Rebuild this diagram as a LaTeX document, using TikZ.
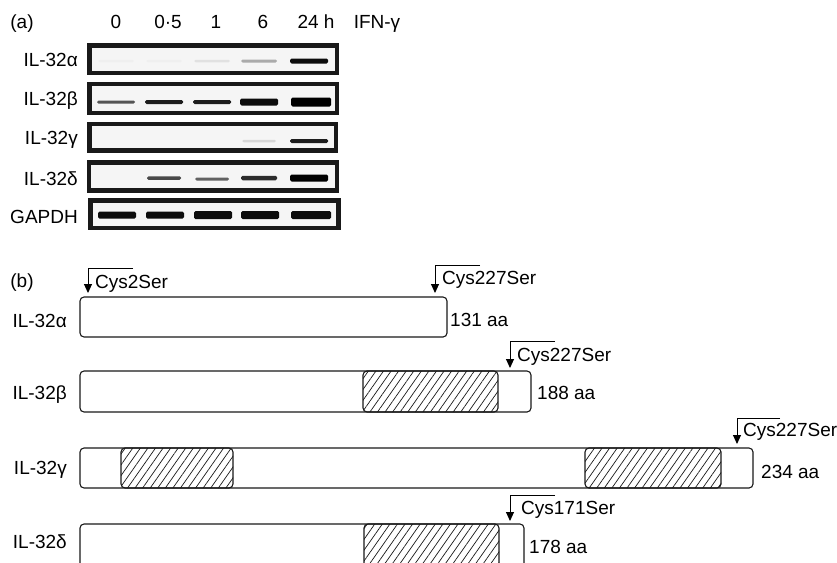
\documentclass[tikz,border=0pt]{standalone}
\usepackage{fontspec}
\setmainfont{Liberation Sans}
\usetikzlibrary{arrows.meta,patterns.meta}
\begin{document}
\begin{tikzpicture}[x=1pt,y=-1pt,
  lbl/.style={inner sep=0pt,font=\fontsize{19}{21}\selectfont},
  gel/.style={draw=black!90,line width=4.5pt,fill=black!4},
  band/.style={fill=black,rounded corners=1.5pt},
  bar/.style={draw=black!90,line width=1.1pt,rounded corners=4pt,fill=white},
  hatch/.style={draw=black!90,line width=1.1pt,rounded corners=4pt,
     pattern={Lines[angle=55,distance=6.2pt,line width=0.7pt]},pattern color=black!90},
  mut/.style={line width=1pt,-{Triangle[width=8pt,length=9pt]}}]
\useasboundingbox (0,0) rectangle (837,562);
\clip (0,0) rectangle (837,562);
\fill[white] (0,0) rectangle (837,562);

% ---------- (a) ----------
\node[lbl,anchor=base] (pa) at (22,28) {(a)};
\node[lbl,anchor=base] (t0) at (116,28) {0};
\node[lbl,anchor=base] (t1) at (168,28) {0·5};
\node[lbl,anchor=base] (t2) at (216,28) {1};
\node[lbl,anchor=base] (t3) at (263,28) {6};
\node[lbl,anchor=base] (t4) at (316,28) {24 h};
\node[lbl,anchor=base] (ifn) at (377,28) {IFN-γ};

\node[lbl,anchor=base east] (la) at (78,66) {IL-32α};
\node[lbl,anchor=base east] (lb) at (78,105) {IL-32β};
\node[lbl,anchor=base east] (lg) at (78,144) {IL-32γ};
\node[lbl,anchor=base east] (ld) at (78,185) {IL-32δ};
\node[lbl,anchor=base east] (lh) at (78,223) {GAPDH};

\draw[gel] (89.5,45.5) rectangle (337,72.8);
\draw[gel] (89.5,84) rectangle (337,112.8);
\draw[gel] (89.5,124) rectangle (336,150.5);
\draw[gel] (89,162.3) rectangle (337,190.5);
\draw[gel] (90.5,200.3) rectangle (338.5,228);

% bands: \bnd{xc}{yc}{w}{h}{opacity}
\newcommand\bnd[5]{\fill[band,opacity=#5] (#1-#3/2,#2-#4/2) rectangle (#1+#3/2,#2+#4/2);}
% alpha
\bnd{116}{61}{36}{2.5}{0.025}\bnd{164}{61}{36}{2.5}{0.025}\bnd{212}{61}{36}{2.5}{0.08}
\bnd{259}{61}{36}{3}{0.3}\bnd{309}{61}{38}{5}{0.95}
% beta
\bnd{116}{102}{38}{3}{0.65}\bnd{164}{102}{38}{4}{0.88}\bnd{212}{102}{38}{4}{0.88}
\bnd{259}{102}{38}{7}{0.95}\bnd{311}{102}{40}{9}{1}
% gamma
\bnd{259}{141}{34}{2.5}{0.12}\bnd{309}{141}{38}{4}{0.88}
% delta
\bnd{164}{178}{34}{3.5}{0.7}\bnd{212}{179}{34}{3}{0.6}\bnd{259}{178}{36}{4.5}{0.82}\bnd{309}{178}{38}{7}{1}
% GAPDH
\bnd{117}{215}{38}{7}{0.95}\bnd{165}{215}{38}{7}{0.95}\bnd{213}{215}{38}{8}{0.95}
\bnd{260}{215}{38}{8}{0.95}\bnd{311}{215}{40}{8}{0.95}

% ---------- (b) ----------
\node[lbl,anchor=base] (pb) at (22,287) {(b)};
\node[lbl,anchor=base east] (na) at (67,327) {IL-32α};
\node[lbl,anchor=base east] (nb) at (67,399) {IL-32β};
\node[lbl,anchor=base east] (ng) at (67,474) {IL-32γ};
\node[lbl,anchor=base east] (nd) at (67,548) {IL-32δ};

% bars
\draw[bar] (80,297) rectangle (447,337);
\draw[bar] (80,371) rectangle (531,412);
\draw[hatch] (363,371) rectangle (498,412);
\draw[bar] (80,448) rectangle (753,488);
\draw[hatch] (121,448) rectangle (233,488);
\draw[hatch] (585,448) rectangle (721,488);
\draw[bar] (80,524) rectangle (524,572);
\draw[hatch] (364,524) rectangle (499,572);

\node[lbl,anchor=base west] (sa) at (450,326) {131 aa};
\node[lbl,anchor=base west] (sb) at (537,399) {188 aa};
\node[lbl,anchor=base west] (sg) at (761,478) {234 aa};
\node[lbl,anchor=base west] (sd) at (529,553) {178 aa};

% mutation arrows
\coordinate (k1) at (133,268); \coordinate (e1) at (88,293);
\draw[mut] (k1) -| (e1);
\node[lbl,anchor=base west] (m1) at (95,288) {Cys2Ser};
\coordinate (k2) at (480,265); \coordinate (e2) at (435,293);
\draw[mut] (k2) -| (e2);
\node[lbl,anchor=base west] (m2) at (442,284) {Cys227Ser};
\coordinate (k3) at (555,341); \coordinate (e3) at (510,368);
\draw[mut] (k3) -| (e3);
\node[lbl,anchor=base west] (m3) at (517,361) {Cys227Ser};
\coordinate (k4) at (780,418); \coordinate (e4) at (737,444);
\draw[mut] (k4) -| (e4);
\node[lbl,anchor=base west] (m4) at (743,436) {Cys227Ser};
\coordinate (k5) at (555,495); \coordinate (e5) at (510,521);
\draw[mut] (k5) -| (e5);
\node[lbl,anchor=base west] (m5) at (521,514) {Cys171Ser};
\end{tikzpicture}
\end{document}
